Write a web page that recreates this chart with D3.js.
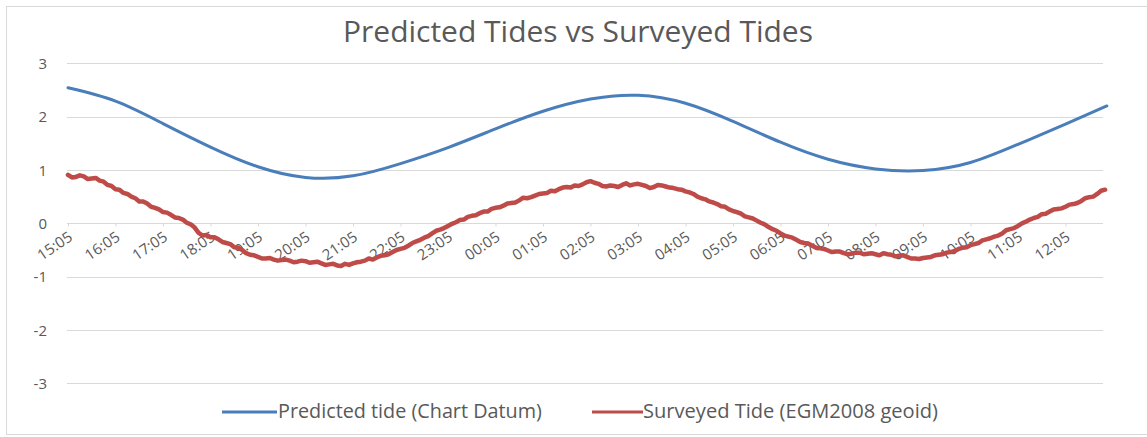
<!DOCTYPE html>
<html>
<head>
<meta charset="utf-8">
<script src="https://cdn.jsdelivr.net/npm/d3@7"></script>
<style>
  html, body { margin: 0; padding: 0; background: #fff; }
  svg { display: block; font-family: "Open Sans", sans-serif; }
</style>
</head>
<body>
<svg id="chart" width="1147" height="437"></svg>
<script>
// Hourly axis labels, starting 15:05
const tickLabels = ["15:05","16:05","17:05","18:05","19:05","20:05","21:05","22:05","23:05",
  "00:05","01:05","02:05","03:05","04:05","05:05","06:05","07:05","08:05","09:05","10:05","11:05","12:05"];

// Predicted tide (Chart Datum), hours after 15:05
const predictedHours = [0,1,2,3,4,5,6,7,8,9,10,11,12,13,14,15,16,17,18,19,20,21,21.87];
const predictedTide  = [2.54,2.29,1.87,1.43,1.06,0.86,0.89,1.12,1.42,1.77,2.10,2.33,2.40,2.25,1.91,1.52,1.20,1.02,0.99,1.14,1.48,1.86,2.20];

// Surveyed tide (EGM2008 geoid), logged every 5 minutes from 15:05
const surveyStepMinutes = 5;
const surveyedTide = [
  0.91,0.86,0.87,0.90,0.88,0.83,0.84,0.85,0.80,0.78,0.72,0.70,0.64,0.63,0.57,0.55,0.50,0.47,0.41,0.41,
  0.37,0.31,0.29,0.26,0.21,0.20,0.16,0.11,0.10,0.07,0.01,-0.02,-0.08,-0.18,-0.23,-0.22,-0.26,-0.26,-0.30,-0.35,
  -0.37,-0.39,-0.45,-0.46,-0.50,-0.56,-0.59,-0.60,-0.63,-0.66,-0.66,-0.65,-0.68,-0.70,-0.69,-0.68,-0.70,-0.73,-0.72,-0.70,
  -0.71,-0.74,-0.73,-0.72,-0.75,-0.78,-0.77,-0.76,-0.79,-0.80,-0.76,-0.78,-0.75,-0.73,-0.72,-0.70,-0.66,-0.68,-0.64,-0.61,
  -0.60,-0.58,-0.54,-0.50,-0.48,-0.46,-0.42,-0.37,-0.34,-0.31,-0.27,-0.24,-0.19,-0.14,-0.12,-0.09,-0.05,-0.01,0.02,0.06,
  0.07,0.12,0.14,0.15,0.19,0.22,0.22,0.27,0.29,0.30,0.33,0.37,0.38,0.39,0.43,0.48,0.47,0.49,0.52,0.55,
  0.56,0.57,0.61,0.60,0.64,0.67,0.68,0.67,0.71,0.70,0.73,0.77,0.79,0.76,0.74,0.70,0.69,0.71,0.70,0.68,
  0.72,0.75,0.71,0.73,0.74,0.72,0.70,0.66,0.68,0.72,0.71,0.69,0.67,0.66,0.64,0.63,0.60,0.58,0.55,0.50,
  0.47,0.45,0.41,0.39,0.36,0.32,0.31,0.26,0.23,0.21,0.18,0.13,0.11,0.09,0.05,0.01,-0.02,-0.07,-0.11,-0.14,
  -0.19,-0.23,-0.25,-0.27,-0.31,-0.35,-0.37,-0.38,-0.42,-0.46,-0.47,-0.48,-0.51,-0.54,-0.53,-0.53,-0.56,-0.58,-0.57,-0.55,
  -0.55,-0.58,-0.57,-0.56,-0.58,-0.60,-0.56,-0.58,-0.59,-0.62,-0.61,-0.60,-0.63,-0.66,-0.66,-0.67,-0.65,-0.64,-0.63,-0.60,
  -0.59,-0.58,-0.55,-0.54,-0.52,-0.48,-0.46,-0.45,-0.41,-0.39,-0.37,-0.32,-0.30,-0.28,-0.25,-0.23,-0.19,-0.13,-0.11,-0.09,
  -0.05,0.00,0.03,0.07,0.10,0.12,0.17,0.18,0.22,0.26,0.27,0.28,0.31,0.35,0.36,0.38,0.42,0.47,0.49,0.50,
  0.55,0.61,0.63
];

const yTicks = [3,2,1,0,-1,-2,-3];
const seriesNames = ["Predicted tide (Chart Datum)", "Surveyed Tide (EGM2008 geoid)"];
const seriesColors = ["#4a7ebb", "#be4b48"];
const textColor = "#595959";

const svg = d3.select("#chart");

// chart area frame
svg.append("rect")
  .attr("x", 6.5).attr("y", 6.5).attr("width", 1145).attr("height", 428)
  .attr("fill", "#fff").attr("stroke", "#d9d9d9").attr("stroke-width", 1);

const x = d3.scaleLinear().domain([0, 21 * 60]).range([68, 1065.5]);
const y = d3.scaleLinear().domain([-3, 3]).range([383.3, 63.3]);

// horizontal gridlines + value labels
svg.append("g").selectAll("line").data(yTicks).join("line")
  .attr("x1", 67).attr("x2", 1103)
  .attr("y1", d => Math.round(y(d)) + 0.5).attr("y2", d => Math.round(y(d)) + 0.5)
  .attr("stroke", "#d9d9d9").attr("stroke-width", 1);

const yAxis = d3.axisLeft(y).tickValues(yTicks).tickSize(0).tickPadding(0).tickFormat(d3.format("d"));
const gy = svg.append("g").attr("transform", "translate(47,0)").call(yAxis)
  .attr("font-family", null).attr("font-size", null);
gy.select(".domain").remove();
gy.selectAll("text").attr("fill", textColor).style("font-size", "15px")
  .attr("dy", "0.35em").text(d => d < 0 ? "-" + Math.abs(d) : d);

// category axis on the zero line
const xAxis = d3.axisBottom(x)
  .tickValues(tickLabels.map((_, i) => i * 60))
  .tickSize(3)
  .tickFormat((d, i) => tickLabels[i]);
const gx = svg.append("g").attr("transform", `translate(0,${Math.round(y(0)) + 0.5})`).call(xAxis)
  .attr("font-family", null).attr("font-size", null);
gx.select(".domain").remove();
gx.selectAll(".tick line").attr("stroke", "#d9d9d9");
gx.selectAll(".tick text")
  .attr("fill", textColor).style("font-size", "15px")
  .attr("text-anchor", "end")
  .attr("x", 0).attr("y", 0).attr("dy", 0)
  .attr("transform", "translate(5,16) rotate(-34)");

// series
const predictedLine = d3.line()
  .x((d, i) => x(predictedHours[i] * 60))
  .y(d => y(d))
  .curve(d3.curveNatural);
svg.append("path").datum(predictedTide)
  .attr("d", predictedLine)
  .attr("fill", "none").attr("stroke", seriesColors[0]).attr("stroke-width", 3)
  .attr("stroke-linecap", "round");

const surveyedLine = d3.line()
  .x((d, i) => x(i * surveyStepMinutes))
  .y(d => y(d));
svg.append("path").datum(surveyedTide)
  .attr("d", surveyedLine)
  .attr("fill", "none").attr("stroke", seriesColors[1]).attr("stroke-width", 4.5)
  .attr("stroke-linejoin", "round").attr("stroke-linecap", "round");

// title
function fitWidth(sel, target) {
  const w = sel.node().getComputedTextLength();
  const fs = parseFloat(sel.style("font-size"));
  sel.style("font-size", (fs * target / w).toFixed(2) + "px");
}
const title = svg.append("text")
  .attr("x", 578).attr("y", 42).attr("text-anchor", "middle")
  .attr("fill", textColor).style("font-size", "24px")
  .text("Predicted Tides vs Surveyed Tides");
fitWidth(title, 470);

// legend
const legendItems = [
  { lx: 222, len: 55, tx: 278, tw: 264 },
  { lx: 592, len: 51, tx: 643, tw: 295 }
];
const lg = svg.append("g");
legendItems.forEach((it, i) => {
  lg.append("line")
    .attr("x1", it.lx).attr("x2", it.lx + it.len).attr("y1", 412).attr("y2", 412)
    .attr("stroke", seriesColors[i]).attr("stroke-width", 3);
  const t = lg.append("text")
    .attr("x", it.tx).attr("y", 418)
    .attr("fill", textColor).style("font-size", "16px")
    .text(seriesNames[i]);
  fitWidth(t, it.tw);
});
</script>
</body>
</html>
